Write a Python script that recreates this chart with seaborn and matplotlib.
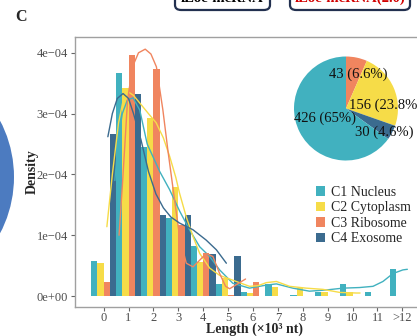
import numpy as np
import pandas as pd
import matplotlib
matplotlib.use("Agg")
import matplotlib.pyplot as plt
import matplotlib.patches as mpatches
from matplotlib.ticker import FuncFormatter
import seaborn as sns

# ---------------- data ----------------
groups = ["C1 Nucleus", "C2 Cytoplasm", "C3 Ribosome", "C4 Exosome"]
colors = ["#41B1BF", "#F6DC48", "#F0855F", "#3B6B8F"]
bins = list(range(13))
bin_labels = ["0", "1", "2", "3", "4", "5", "6", "7", "8", "9", "10", "11", ">12"]

# bar heights in units of 1e-4
c1_bars = [0.58, 3.66, 2.45, 1.28, 0.83, 0.20, 0.07, 0.20, 0.02, 0.07, 0.20, 0.07, 0.44]
c2_bars = [0.54, 3.42, 2.92, 1.79, 0.56, 0.30, 0.05, 0.15, 0.13, 0.07, 0.07, 0.0, 0.0]
c3_bars = [0.235, 3.96, 3.73, 1.17, 0.70, 0.02, 0.235, 0.0, 0.0, 0.0, 0.0, 0.0, 0.0]
c4_bars = [2.66, 3.33, 1.33, 1.33, 0.69, 0.66, 0.0, 0.0, 0.0, 0.0, 0.0, 0.0, 0.0]

# smooth density lines (x in 10^3 nt, y in 1e-4)
c1_line_x = [0.45, 0.6, 0.75, 0.95, 1.18, 1.45, 1.75, 2.25, 2.65, 3.05, 3.45, 3.86, 4.26, 4.66,
             5.19, 5.86, 6.53, 6.94, 7.60, 8.27, 8.94, 9.61, 10.28, 10.82, 11.22, 11.62, 12.02, 12.2]
c1_line_y = [1.9, 2.6, 3.0, 3.22, 3.26, 3.06, 2.5, 2.05, 1.75, 1.40, 1.09, 0.81, 0.65, 0.43,
             0.21, 0.13, 0.18, 0.20, 0.13, 0.08, 0.10, 0.13, 0.14, 0.16, 0.24, 0.37, 0.43, 0.44]
c2_line_x = [0.13, 0.35, 0.6, 0.8, 0.98, 1.2, 1.5, 1.8, 2.11, 2.4, 2.65, 2.9, 3.05, 3.32, 3.59,
             3.86, 4.26, 4.66, 5.06, 5.46, 5.86, 6.2, 6.53, 6.94, 7.47, 8.14, 8.81, 9.48, 10.15, 10.3]
c2_line_y = [1.14, 2.0, 2.85, 3.25, 3.36, 3.3, 3.15, 3.0, 2.85, 2.6, 2.3, 1.95, 1.69, 1.30, 0.98,
             0.70, 0.46, 0.34, 0.28, 0.22, 0.16, 0.17, 0.22, 0.24, 0.16, 0.13, 0.11, 0.06, 0.05, 0.05]
c3_line_x = [0.62, 0.75, 0.84, 0.96, 1.16, 1.4, 1.67, 1.9, 2.12, 2.38, 2.58, 2.85, 3.05, 3.32,
             3.59, 3.86, 4.12, 4.39, 4.66, 4.9, 5.06, 5.3, 5.7]
c3_line_y = [1.0, 1.8, 2.40, 3.22, 3.77, 4.0, 4.06, 3.98, 3.77, 3.06, 2.40, 1.58, 0.98, 0.54,
             0.48, 0.59, 0.70, 0.65, 0.37, 0.16, 0.12, 0.18, 0.28]
c4_line_x = [0.17, 0.35, 0.55, 0.78, 1.0, 1.2, 1.5, 1.8, 2.1, 2.4, 2.7, 3.05, 3.59, 4.12, 4.53, 4.93]
c4_line_y = [2.62, 3.0, 3.25, 3.33, 3.25, 3.0, 2.57, 2.05, 1.68, 1.45, 1.30, 1.20, 1.09, 0.92, 0.76, 0.54]

# pie
pie_counts = [43, 156, 30, 426]
pie_labels = ["43 (6.6%)", "156 (23.8%)", "30 (4.6%)", "426 (65%)"]
pie_colors = ["#F0855F", "#F6DC48", "#3B6B8F", "#41B1BF"]

scale = 1e-4

# ---------------- style ----------------
sns.set_theme(style="white")
plt.rcParams["font.family"] = ["Liberation Serif", "DejaVu Serif"]
plt.rcParams["axes.unicode_minus"] = True

W, H = 417, 336
fig = plt.figure(figsize=(W / 100, H / 100), dpi=100)

def fx(px):
    return px / W

def fy(py):
    return 1 - py / H

# left decorative circle (partial)
circ = mpatches.Ellipse((fx(-107), fy(177)), 2 * 121 / W, 2 * 121 / H,
                        transform=fig.transFigure, color="#4C7BC0", lw=0)
fig.add_artist(circ)

# top boxes (partially cropped)
for (x0, x1, txt, col) in [(175, 270, "iLoc-lncRNA", "black"),
                           (290, 410, "iLoc-lncRNA(2.0)", "#D10000")]:
    box = mpatches.FancyBboxPatch((fx(x0), fy(10)), fx(x1 - x0), 20 / H,
                                  boxstyle="round,pad=0,rounding_size=0.015",
                                  transform=fig.transFigure, fc="white",
                                  ec="#22304F", lw=1.6)
    fig.add_artist(box)
    fig.text(fx((x0 + x1) / 2), fy(-1.5), txt, ha="center", va="center",
             fontsize=10.5, fontweight="bold", color=col)

# panel label
fig.text(fx(21), fy(17), "C", ha="center", va="center", fontsize=11.5, fontweight="bold")

# main axes
ax = fig.add_axes([fx(75), fy(307), (431 - 75) / W, (307 - 37) / H])

rows = []
for g, vals in zip(groups, [c1_bars, c2_bars, c3_bars, c4_bars]):
    for b, v in zip(bins, vals):
        rows.append({"bin": b, "density": v * scale, "group": g})
df = pd.DataFrame(rows)

sns.barplot(data=df, x="bin", y="density", hue="group", hue_order=groups,
            palette=colors, native_scale=True, width=1.0, gap=0, errorbar=None,
            saturation=1, linewidth=0, ax=ax)

for lx, ly, col in [(c1_line_x, c1_line_y, colors[0]), (c2_line_x, c2_line_y, colors[1]),
                    (c3_line_x, c3_line_y, colors[2]), (c4_line_x, c4_line_y, colors[3])]:
    sns.lineplot(x=lx, y=np.array(ly) * scale, color=col, lw=1.0, ax=ax,
                 sort=False, estimator=None, legend=False)

ax.set_xlim(-1.15, 13.15)
ax.set_ylim(-0.18e-4, 4.26e-4)
ax.set_xticks(bins)
ax.set_xticklabels(bin_labels)
ax.set_yticks([0, 1e-4, 2e-4, 3e-4, 4e-4])
ax.yaxis.set_major_formatter(FuncFormatter(lambda v, p: f"{v:.0e}".replace("-", "\u2212")))
ax.tick_params(axis="both", which="major", length=3, width=0.8, color="#666666",
               labelcolor="#4D4D4D", labelsize=9, left=True, bottom=True)
ax.tick_params(axis="x", pad=0.5)
ax.tick_params(axis="y", pad=2)
for s in ax.spines.values():
    s.set_color("#A0A0A0")
    s.set_linewidth(1.0)
ax.set_xlabel("")
ax.set_ylabel("")

fig.text(fx(32), fy(172), "Density", rotation=90, ha="center", va="center",
         fontsize=10, fontweight="bold")
fig.text(fx(254), fy(329.5), "Length (\u00d710\u00b3 nt)", ha="center", va="center",
         fontsize=10, fontweight="bold")

# legend
handles, labels = ax.get_legend_handles_labels()
if ax.legend_:
    ax.legend_.remove()
leg = fig.legend(handles[:4], labels[:4], loc="upper left",
                 bbox_to_anchor=(fx(316), fy(186)), frameon=False, fontsize=10,
                 handlelength=0.65, handleheight=0.65, handletextpad=0.4,
                 labelspacing=0.18, borderpad=0, borderaxespad=0)

# pie inset
pax = fig.add_axes([fx(294), fy(160.5), 104 / W, 104 / H])
pax.pie(pie_counts, colors=pie_colors, startangle=90, counterclock=False,
        radius=1, wedgeprops={"linewidth": 0})
pax.set_xlim(-1, 1)
pax.set_ylim(-1, 1)
pax.axis("off")
label_pos = [(0.23, 0.66), (0.76, 0.07), (0.74, -0.45), (-0.41, -0.18)]
for lab, (lx, ly) in zip(pie_labels, label_pos):
    pax.text(lx, ly, lab, ha="center", va="center", fontsize=10.5, color="#111111")

fig.savefig("out.png", dpi=100)
